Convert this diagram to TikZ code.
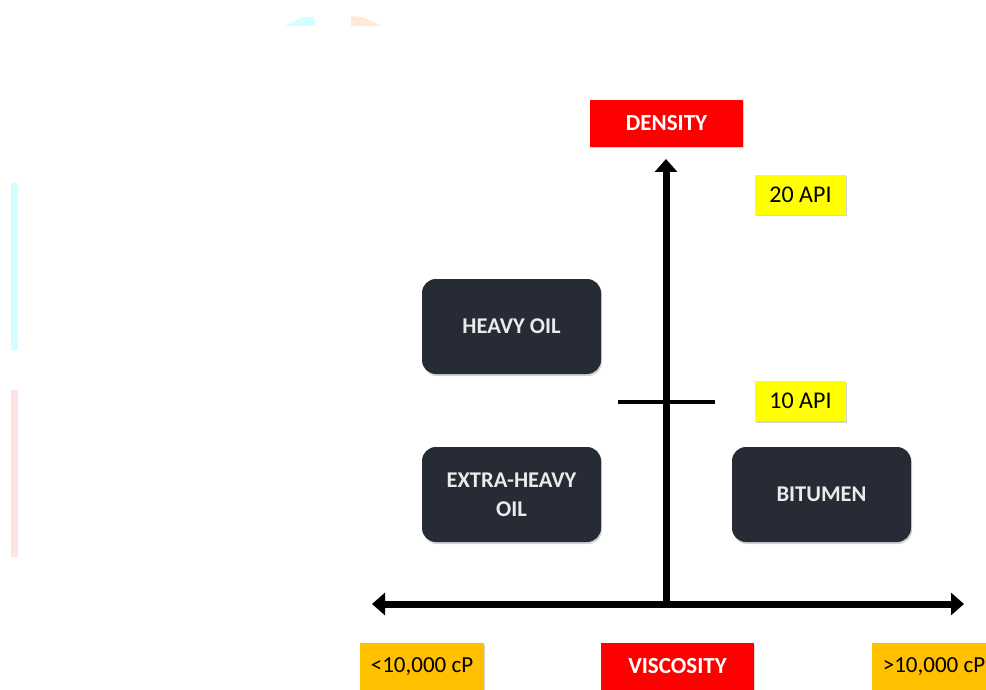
\documentclass[tikz,border=0pt]{standalone}
\usepackage{fontspec}
\setmainfont{Carlito}
\usetikzlibrary{arrows.meta,shadows}
\definecolor{darkbox}{HTML}{262B36}
\definecolor{redbox}{HTML}{FF0000}
\definecolor{yelbox}{HTML}{FFFF00}
\definecolor{goldbox}{HTML}{FFC000}
\definecolor{faintcyan}{HTML}{D2FFFF}
\definecolor{faintpink}{HTML}{FFE2E2}
\definecolor{faintpeach}{HTML}{FFEAD6}
\tikzset{
  x=1pt,y=-1pt,
  lbl/.style={draw=none,minimum height=47pt,minimum width=153pt,align=center,inner sep=0pt,font=\fontsize{23}{28}\selectfont\bfseries,drop shadow={shadow xshift=1pt,shadow yshift=-1.5pt,opacity=0.35}},
  redlbl/.style={lbl,fill=redbox,text=white},
  apilbl/.style={lbl,fill=yelbox,text=black,minimum height=40pt,minimum width=91pt,font=\fontsize{24}{28}\selectfont},
  cplbl/.style={lbl,fill=goldbox,text=black,minimum width=124pt,font=\fontsize{23}{28}\selectfont},
  oilbox/.style={draw=none,fill=darkbox,rounded corners=14pt,minimum height=95pt,minimum width=179pt,align=center,inner sep=0pt,text=white!92!black,font=\fontsize{22.5}{29}\selectfont\bfseries,drop shadow={shadow xshift=1pt,shadow yshift=-2pt,opacity=0.35}},
  axis/.style={line width=7pt,-{Triangle[length=13pt,width=22pt]}},
}
\begin{document}
\begin{tikzpicture}
\useasboundingbox (0,0) rectangle (986,690);
\clip (0,0) rectangle (986,690);
% faint artifacts
\fill[faintcyan] (11,183) rectangle (18,350);
\fill[faintpink] (11,390) rectangle (18,557);
\fill[faintcyan] (285,26) -- (292,22) -- (303,17) -- (314,17) -- (316,26) -- cycle;
\fill[faintpeach] (351,26) -- (351,16) -- (362,17) -- (376,23) -- (381,26) -- cycle;
% labels
\node[redlbl] (density) at (666.5,123.5) {DENSITY};
\node[redlbl] (visc) at (677.5,666.5) {VISCOSITY};
\node[apilbl] (api20) at (800.5,195) {20 API};
\node[apilbl] (api10) at (800.5,401) {10 API};
\node[cplbl] (lowcp) at (422,666.5) {<10,000 cP};
\node[cplbl] (highcp) at (934,666.5) {>10,000 cP};
% oil boxes
\node[oilbox] (heavy) at (511.5,326.5) {HEAVY OIL};
\node[oilbox] (xheavy) at (511.5,494.5) {EXTRA-HEAVY\\OIL};
\node[oilbox] (bitumen) at (821.5,494.5) {BITUMEN};
% axes
\coordinate (origin) at (666,604);
\coordinate (top) at (666,159);
\coordinate (left) at (372,604);
\coordinate (right) at (964,604);
\coordinate (tickL) at (618,402);
\coordinate (tickR) at (715,402);
\draw[axis] (origin) -- (top);
\draw[line width=7pt,{Triangle[length=13pt,width=22pt]}-{Triangle[length=13pt,width=22pt]}] (left) -- (right);
\draw[line width=4pt] (tickL) -- (tickR);
\end{tikzpicture}
\end{document}
